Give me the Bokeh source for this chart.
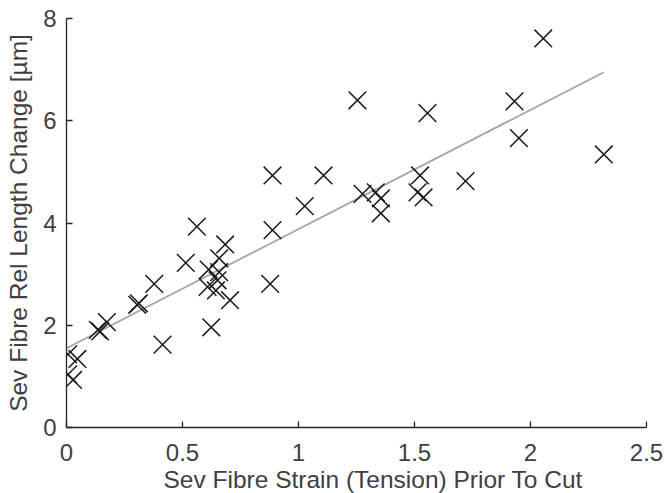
from bokeh.plotting import figure
from bokeh.models import Range1d, FixedTicker, Title
from bokeh.embed import file_html
from bokeh.resources import INLINE

# Data
strain = [0.007, 0.047, 0.007, 0.028, 0.135, 0.145, 0.174, 0.305, 0.312, 0.378,
          0.414, 0.514, 0.562, 0.613, 0.658, 0.658, 0.651, 0.608, 0.644, 0.705,
          0.684, 0.624, 0.878, 0.888, 0.888, 1.027, 1.108, 1.254, 1.276, 1.333,
          1.355, 1.355, 1.513, 1.524, 1.539, 1.556, 1.720, 1.931, 1.950, 2.055,
          2.316]
length_change = [1.43, 1.34, 1.04, 0.93, 1.91, 1.88, 2.06, 2.40, 2.43, 2.81,
                 1.62, 3.22, 3.93, 3.09, 3.31, 3.04, 2.88, 2.75, 2.68, 2.49,
                 3.58, 1.96, 2.81, 3.86, 4.93, 4.33, 4.93, 6.40, 4.57, 4.60,
                 4.48, 4.19, 4.60, 4.93, 4.50, 6.15, 4.82, 6.38, 5.66, 7.61,
                 5.34]
fit_x = [0.0, 2.316]
fit_y = [1.55, 6.95]

x_ticks = [0, 0.5, 1, 1.5, 2, 2.5]
x_tick_labels = {0: "0", 0.5: "0.5", 1: "1", 1.5: "1.5", 2: "2", 2.5: "2.5"}
y_ticks = [0, 2, 4, 6, 8]
x_title = "Sev Fibre Strain (Tension) Prior To Cut"
y_title = "Sev Fibre Rel Length Change [µm]"

AX = "#262626"
TXT = "#404040"
FONT = "Liberation Sans"

p = figure(width=667, height=493, output_backend="svg", toolbar_location=None,
           x_range=Range1d(0, 2.5), y_range=Range1d(0, 8),
           min_border_left=66, min_border_right=21, min_border_top=18, min_border_bottom=66)
p.outline_line_color = None
p.xgrid.visible = False
p.ygrid.visible = False
p.background_fill_color = "white"
p.border_fill_color = "white"

p.line(fit_x, fit_y, line_color="#a6a6a6", line_width=1.8)
p.scatter(strain, length_change, marker="x", size=25, line_color="#1a1a1a", line_width=1.5)

for ax in (p.xaxis[0], p.yaxis[0]):
    ax.axis_line_color = AX
    ax.axis_line_width = 1.3
    ax.major_tick_line_color = AX
    ax.major_tick_line_width = 1.3
    ax.major_tick_in = 6
    ax.major_tick_out = 0
    ax.minor_tick_line_color = None
    ax.major_label_text_color = TXT
    ax.major_label_text_font = FONT
    ax.major_label_text_font_size = "24px"
    ax.axis_label_text_color = TXT
    ax.axis_label_text_font = FONT
    ax.axis_label_text_font_size = "24.5px"
    ax.axis_label_text_font_style = "normal"

p.xaxis.ticker = FixedTicker(ticks=x_ticks)
p.xaxis.major_label_overrides = x_tick_labels
p.yaxis.ticker = FixedTicker(ticks=y_ticks)
p.yaxis.axis_label = y_title
p.xaxis.major_label_standoff = 16
p.yaxis.major_label_standoff = 10
p.yaxis.axis_label_standoff = 8

xt = Title(text=x_title, align="left", offset=97, standoff=0,
           text_font=FONT, text_font_size="24.5px", text_color=TXT,
           text_font_style="normal")
p.add_layout(xt, "below")

open("out.html", "w").write(file_html(p, INLINE))
